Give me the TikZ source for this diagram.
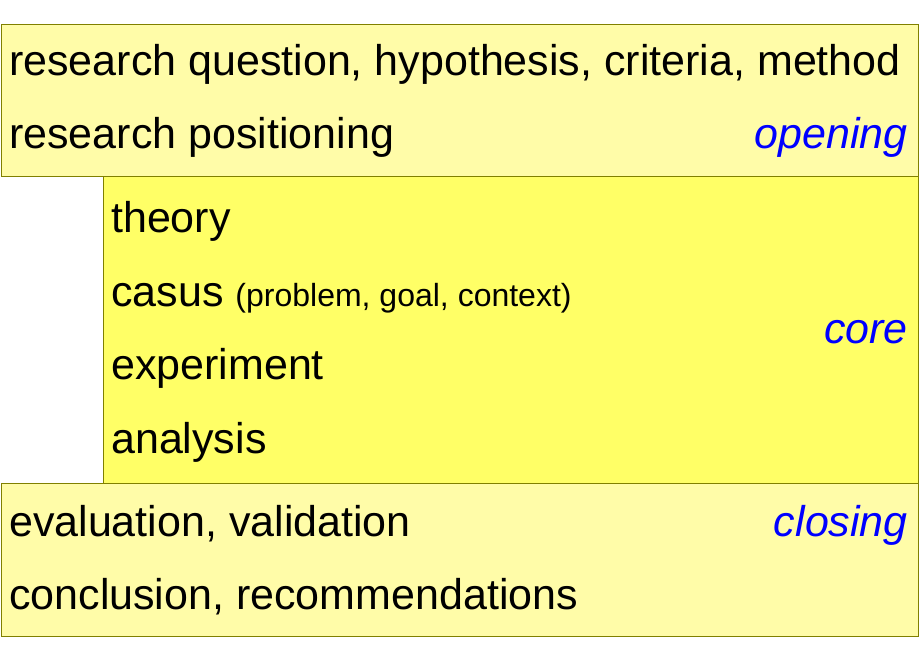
\documentclass[tikz,border=0pt]{standalone}
\usepackage{fontspec}
\setmainfont{Liberation Sans}
\usetikzlibrary{positioning}

\definecolor{paleyellow}{HTML}{FFFCA8}
\definecolor{coreyellow}{HTML}{FFFF66}
\definecolor{boxborder}{HTML}{808000}

\begin{document}
\begin{tikzpicture}[x=1pt,y=-1pt,
    box/.style={draw=boxborder,line width=1pt},
    item/.style={anchor=base west,inner sep=0,font=\itemfontsize},
    part/.style={anchor=base east,inner sep=0,text=blue,font=\partfontsize\itshape}]
    \pgfmathsetmacro{\boxleft}{1}
    \pgfmathsetmacro{\boxright}{918}
    \pgfmathsetmacro{\coreleft}{103}
    \pgfmathsetmacro{\openingtop}{25}
    \pgfmathsetmacro{\coretop}{177}
    \pgfmathsetmacro{\closingtop}{483}
    \pgfmathsetmacro{\closingbottom}{636}
    \pgfmathsetmacro{\textleft}{9}
    \pgfmathsetmacro{\coretextleft}{111}
    \pgfmathsetmacro{\partright}{908}
    \providecommand{\itemfontsize}{\fontsize{43}{50}\selectfont}
    \providecommand{\partfontsize}{\fontsize{43}{50}\selectfont}
    \providecommand{\notefontsize}{\fontsize{32}{38}\selectfont}
    \useasboundingbox (0,0) rectangle (920,660);
    % the three blocks
    \draw[box,fill=paleyellow] (\boxleft,\openingtop) rectangle (\boxright,\coretop);
    \draw[box,fill=coreyellow] (\coreleft,\coretop) rectangle (\boxright,\closingtop);
    \draw[box,fill=paleyellow] (\boxleft,\closingtop) rectangle (\boxright,\closingbottom);
    % opening
    \node[item] (question) at (\textleft,76) {research question, hypothesis, criteria, method};
    \node[item] (positioning) at (\textleft,149) {research positioning};
    \node[part] (opening) at (\partright,149) {opening};
    % core
    \node[item] (theory) at (\coretextleft,233) {theory};
    \node[item] (casus) at (\coretextleft,306) {casus {\notefontsize (problem, goal, context)}};
    \node[item] (experiment) at (\coretextleft,379) {experiment};
    \node[item] (analysis) at (\coretextleft,453) {analysis};
    \node[part] (core) at (\partright,343) {core};
    % closing
    \node[item] (evaluation) at (\textleft,536) {evaluation, validation};
    \node[item] (conclusion) at (\textleft,609) {conclusion, recommendations};
    \node[part] (closing) at (\partright,536) {closing};
\end{tikzpicture}
\end{document}
